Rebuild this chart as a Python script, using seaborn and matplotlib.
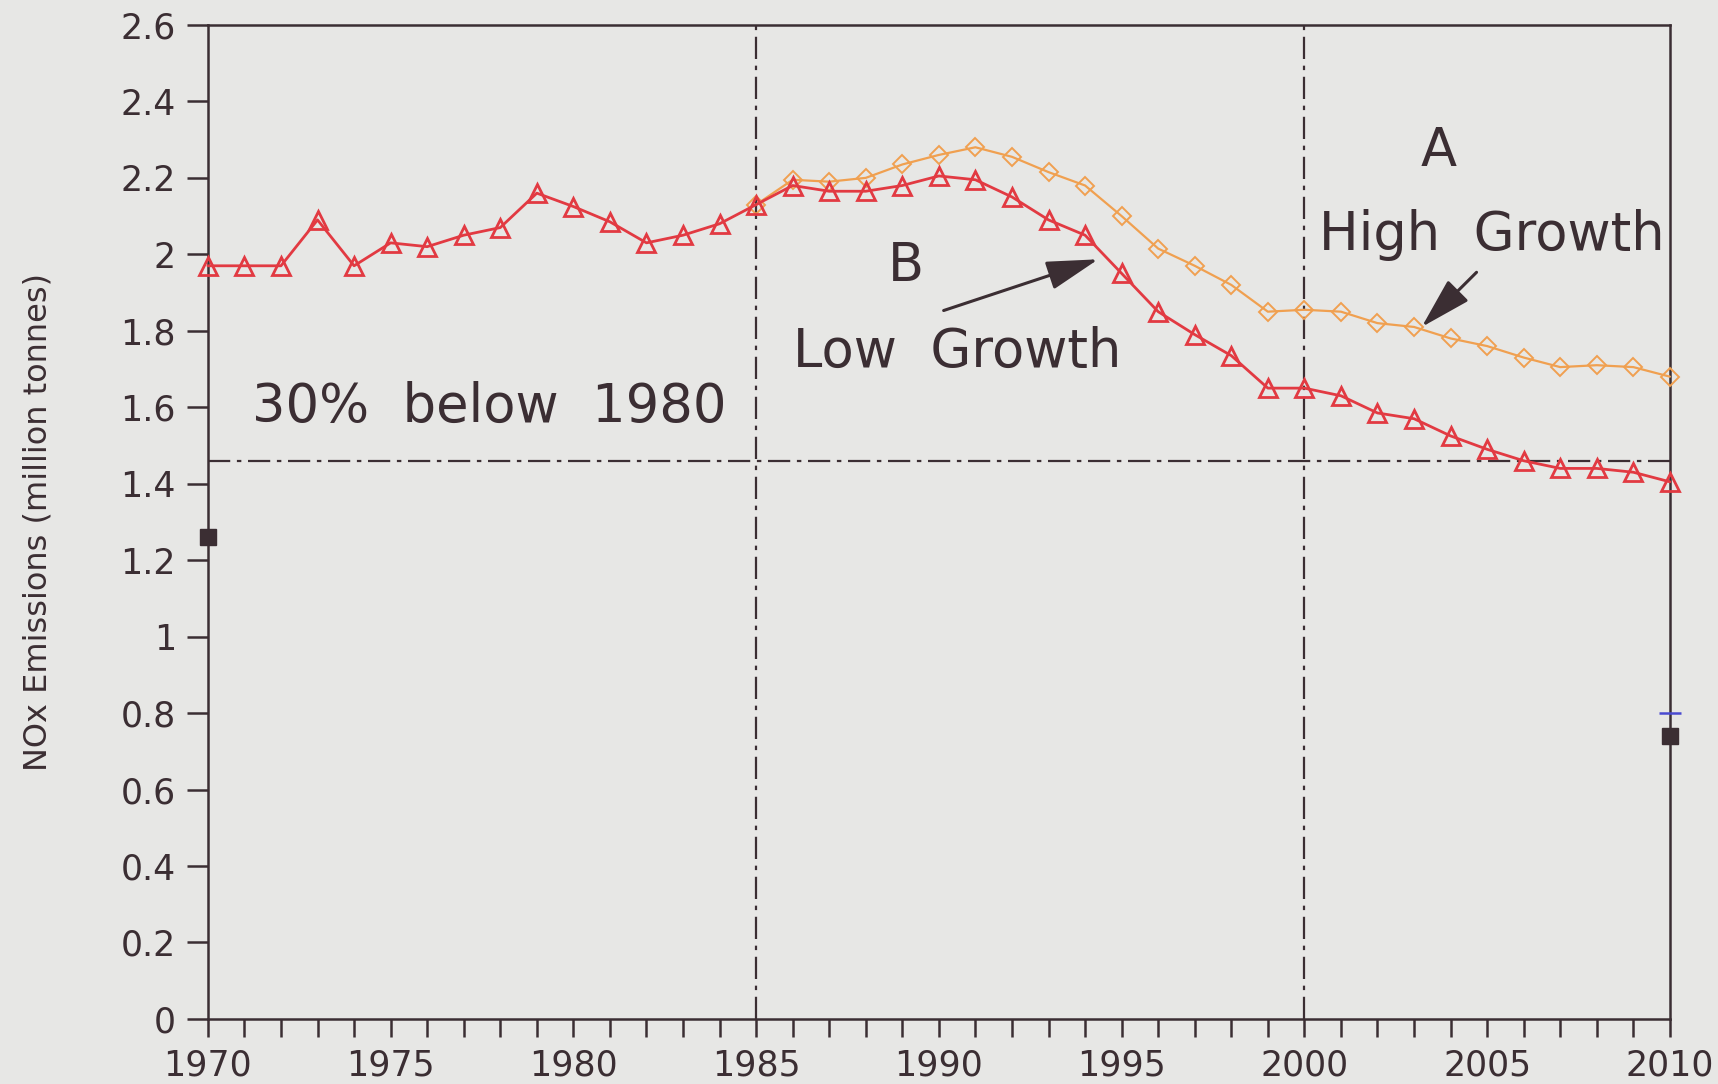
import numpy as np
import pandas as pd
import seaborn as sns
import matplotlib
import matplotlib.pyplot as plt
from matplotlib.ticker import MultipleLocator

matplotlib.use("Agg")

# data
years_low = list(range(1970, 2011))
low_growth = [
    1.97, 1.97, 1.97, 2.09, 1.97, 2.03, 2.02, 2.05, 2.07, 2.16,
    2.125, 2.085, 2.03, 2.05, 2.08, 2.13, 2.18, 2.165, 2.165, 2.18,
    2.205, 2.195, 2.15, 2.09, 2.05, 1.95, 1.85, 1.79, 1.735, 1.65,
    1.65, 1.63, 1.585, 1.57, 1.525, 1.49, 1.46, 1.44, 1.44, 1.43,
    1.405,
]
years_high = list(range(1985, 2011))
high_growth = [
    2.13, 2.195, 2.19, 2.20, 2.235, 2.26, 2.28, 2.255, 2.215, 2.18,
    2.10, 2.015, 1.97, 1.92, 1.85, 1.855, 1.85, 1.82, 1.81, 1.78,
    1.76, 1.73, 1.705, 1.71, 1.705, 1.68,
]
target_years = [1970, 2010]
target_values = [1.26, 0.74]
blue_mark_year = [2010]
blue_mark_value = [0.80]
below_1980 = 1.46
split_years = [1985, 2000]

BG = "#e7e7e5"
DARK = "#3b2e33"
RED = "#e23a42"
ORANGE = "#f0a050"

sns.set_style("white")
plt.rcParams["font.family"] = ["DejaVu Sans"]

fig = plt.figure(figsize=(17.18, 10.84), dpi=100, facecolor=BG)
ax = fig.add_axes([0.121, 0.060, 0.851, 0.917])
ax.set_facecolor(BG)

df_low = pd.DataFrame({"year": years_low, "value": low_growth})
df_high = pd.DataFrame({"year": years_high, "value": high_growth})

sns.lineplot(
    data=df_high, x="year", y="value", ax=ax, color=ORANGE, lw=1.6,
    marker="D", markersize=9, markerfacecolor="none",
    markeredgecolor=ORANGE, markeredgewidth=1.4, clip_on=False, zorder=3,
)
sns.lineplot(
    data=df_low, x="year", y="value", ax=ax, color=RED, lw=2.0,
    marker="^", markersize=13, markerfacecolor="none",
    markeredgecolor=RED, markeredgewidth=2.0, clip_on=False, zorder=4,
)

ax.plot(target_years, target_values, ls="none", marker="s", ms=12,
        color=DARK, clip_on=False, zorder=5)
ax.plot(blue_mark_year, blue_mark_value, ls="none", marker="_", ms=16,
        mew=1.8, color="#4a4ad0", clip_on=False, zorder=5)

for yr in split_years:
    ax.axvline(yr, color=DARK, lw=1.6, ls=(0, (10, 3, 2, 3)), zorder=2)
ax.axhline(below_1980, color=DARK, lw=1.6, ls=(0, (10, 3, 2, 3)), zorder=2)

ax.set_xlim(1970, 2010)
ax.set_ylim(0, 2.6)
ax.xaxis.set_major_locator(MultipleLocator(5))
ax.xaxis.set_minor_locator(MultipleLocator(1))
ax.yaxis.set_major_locator(MultipleLocator(0.2))
ax.yaxis.set_major_formatter(matplotlib.ticker.FuncFormatter(lambda v, p: f"{v:g}"))

ax.tick_params(axis="x", which="both", direction="out", length=13, width=1.8,
               color=DARK, labelsize=25, labelcolor=DARK, pad=8)
ax.tick_params(axis="y", which="major", direction="out", length=15, width=1.8,
               color=DARK, labelsize=25, labelcolor=DARK, pad=8)
ax.tick_params(bottom=True, left=True, which="both")
ax.tick_params(axis="y", which="minor", left=False)
for s in ax.spines.values():
    s.set_color(DARK)
    s.set_linewidth(1.8)

ax.set_xlabel("")
ax.set_ylabel("NOx Emissions (million tonnes)", fontsize=23, color=DARK, labelpad=48)

txt = dict(color=DARK, fontsize=38, va="center")
ax.text(1971.2, 1.60, "30%  below  1980", ha="left", **txt)
ax.text(1989.1, 1.97, "B", ha="center", **txt)
ax.text(1986.0, 1.745, "Low  Growth", ha="left", **txt)
ax.text(2003.66, 2.27, "A", ha="center", **txt)
ax.text(2000.4, 2.05, "High  Growth", ha="left", **txt)

arrow = dict(arrowstyle="-|>,head_length=1.6,head_width=0.45", color=DARK,
             lw=2.2, mutation_scale=20, shrinkA=0, shrinkB=0)
ax.annotate("", xy=(1994.36, 1.987), xytext=(1990.13, 1.853), arrowprops=arrow)
ax.annotate("", xy=(2003.21, 1.81), xytext=(2004.71, 1.953), arrowprops=arrow)

fig.savefig("out.png", dpi=100, facecolor=BG)
